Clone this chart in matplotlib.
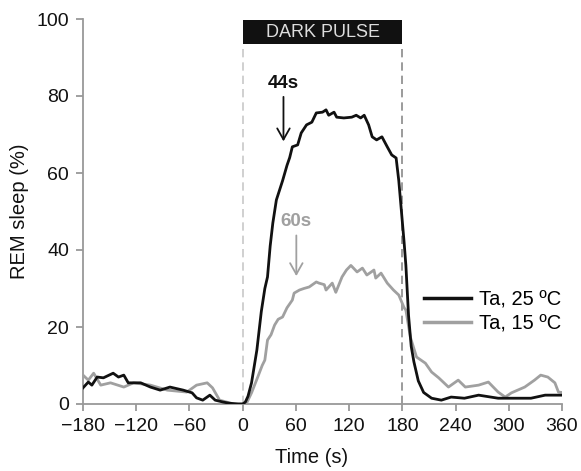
import matplotlib
matplotlib.use("Agg")
import matplotlib.pyplot as plt
from matplotlib.patches import Rectangle

# ---- data ----
t25 = [-180, -174, -170, -164, -157, -146, -140, -134, -129, -115, -104, -93, -82, -67, -57, -52,
       -45, -37, -31, -22, -15, -5, 0, 3, 6, 10, 16, 21, 25, 28, 31, 34, 38, 45, 50, 53, 56, 62,
       66, 72, 78, 83, 90, 94, 97, 103, 106, 114, 123, 128, 133, 137, 142, 146, 151, 157, 163,
       168, 173, 176, 179, 182, 184, 187, 190, 193, 198, 204, 213, 224, 235, 250, 266, 288, 310,
       325, 341, 356, 360]
rem25 = [4.2, 5.7, 4.9, 7.0, 6.8, 8.0, 7.0, 7.5, 5.5, 5.5, 4.4, 3.6, 4.4, 3.6, 2.9, 1.6,
         1.0, 2.3, 1.0, 0.5, 0.2, 0.0, 0.0, 0.5, 2.0, 5.5, 14, 24, 30, 33, 41, 47, 53, 58, 62, 64,
         66.8, 67.3, 70.4, 72.5, 73.2, 75.6, 75.8, 76.4, 75.0, 75.8, 74.5, 74.3, 74.5, 75.0, 74.3,
         75.0, 72.5, 69.4, 68.6, 69.4, 66.8, 64.7, 63.9, 58, 50, 42, 36, 23, 15, 11, 6, 3, 1.5,
         1.0, 1.8, 1.5, 2.3, 1.5, 1.5, 1.5, 2.3, 2.3, 2.3]

t15 = [-180, -174, -168, -160, -149, -134, -123, -104, -85, -63, -52, -40, -34, -26, -18, -10,
       0, 5, 10, 17, 22, 25, 28, 32, 36, 40, 45, 50, 56, 58, 64, 69, 75, 83, 86, 92, 94, 101,
       105, 112, 117, 122, 129, 135, 140, 145, 148, 150, 156, 163, 170, 176, 182, 184, 189, 196,
       206, 213, 221, 232, 243, 251, 266, 277, 288, 296, 303, 318, 329, 336, 344, 352, 356, 360]
rem15 = [7.5, 6.2, 8.0, 4.9, 5.5, 4.4, 5.5, 4.9, 3.6, 3.1, 4.9, 5.5, 4.2, 1.0, 0.5, 0.0,
         0.0, 0.5, 2.9, 7.0, 10, 11.4, 16.6, 18, 20.5, 22, 22.6, 25, 27, 28.8, 29.6, 30, 30.4,
         31.7, 31.4, 31, 29.6, 31.4, 29, 33, 34.8, 36, 34.3, 35.3, 33.5, 34.3, 34.8, 32.7, 34,
         31.4, 29.6, 28.3, 25, 24.4, 17.4, 12.2, 10.6, 8.3, 6.8, 4.4, 6.2, 4.4, 4.9, 5.7, 3.1,
         1.8, 2.9, 4.4, 6.2, 7.5, 7.0, 5.5, 3.1, 3.0]

xticks = [-180, -120, -60, 0, 60, 120, 180, 240, 300, 360]
yticks = [0, 20, 40, 60, 80, 100]
labels = ["Ta, 25 ºC", "Ta, 15 ºC"]

plt.rcParams['font.family'] = ['Liberation Sans', 'DejaVu Sans']

fig = plt.figure(figsize=(5.81, 4.71), dpi=100)
ax = fig.add_axes([83/581, 1 - 404/471, (562 - 83)/581, (404 - 19)/471])

BLACK = "#111111"
GREY = "#a0a0a0"
FS = 14

ax.axvline(0, ymin=0, ymax=0.935, color="#c8c8c8", lw=1.2, ls=(0, (5, 3)), zorder=1)
ax.axvline(180, ymin=0, ymax=0.935, color="#8a8a8a", lw=1.2, ls=(0, (5, 3)), zorder=1)

l1, = ax.plot(t25, rem25, color=BLACK, lw=2.0, zorder=4, solid_joinstyle='round')
l2, = ax.plot(t15, rem15, color=GREY, lw=2.0, zorder=3, solid_joinstyle='round')

ax.add_patch(Rectangle((0, 93.6), 180, 6.2, facecolor="#111111", edgecolor="none",
                       clip_on=False, zorder=5))
ax.text(90, 96.6, "DARK PULSE", color="#dddddd", ha="center", va="center", fontsize=13,
        zorder=6)

ax.annotate("", xy=(46, 67.5), xytext=(46, 80.5),
            arrowprops=dict(arrowstyle="->,head_length=0.8,head_width=0.45", color=BLACK, lw=1.3))
ax.text(46, 83.3, "44s", color=BLACK, fontsize=13.5, fontweight="bold", ha="center", va="center")
ax.annotate("", xy=(60.5, 32.5), xytext=(60.5, 44.5),
            arrowprops=dict(arrowstyle="->,head_length=0.8,head_width=0.45", color=GREY, lw=1.3))
ax.text(60.5, 47.3, "60s", color=GREY, fontsize=13.5, fontweight="bold", ha="center", va="center")

ax.set_xlim(-180, 360)
ax.set_ylim(0, 100)
ax.set_xticks(xticks)
ax.set_xticklabels([str(v).replace("-", "\u2212") for v in xticks])
ax.set_yticks(yticks)
for s in ["top", "right"]:
    ax.spines[s].set_visible(False)
for s in ["left", "bottom"]:
    ax.spines[s].set_color("#999999")
    ax.spines[s].set_linewidth(1.3)
ax.tick_params(axis="both", colors="#999999", length=5, width=1.3, labelsize=FS,
               labelcolor="#111111", pad=5)
ax.set_xlabel("Time (s)", fontsize=FS + 0.5, color="#111111")
ax.set_ylabel("REM sleep (%)", fontsize=FS + 0.5, color="#111111")
ax.xaxis.set_label_coords((312 - 83) / 479, -(448 - 404) / 385)
ax.yaxis.set_label_coords((29 - 83) / 479, 0.5)

leg = ax.legend([l1, l2], labels, loc="center left", bbox_to_anchor=(0.675, 0.24),
                frameon=False, fontsize=FS + 0.5, handlelength=2.3, handletextpad=0.4,
                labelspacing=0.25)
for h in leg.get_lines():
    h.set_linewidth(2.5)

fig.savefig("out.png", dpi=100)
